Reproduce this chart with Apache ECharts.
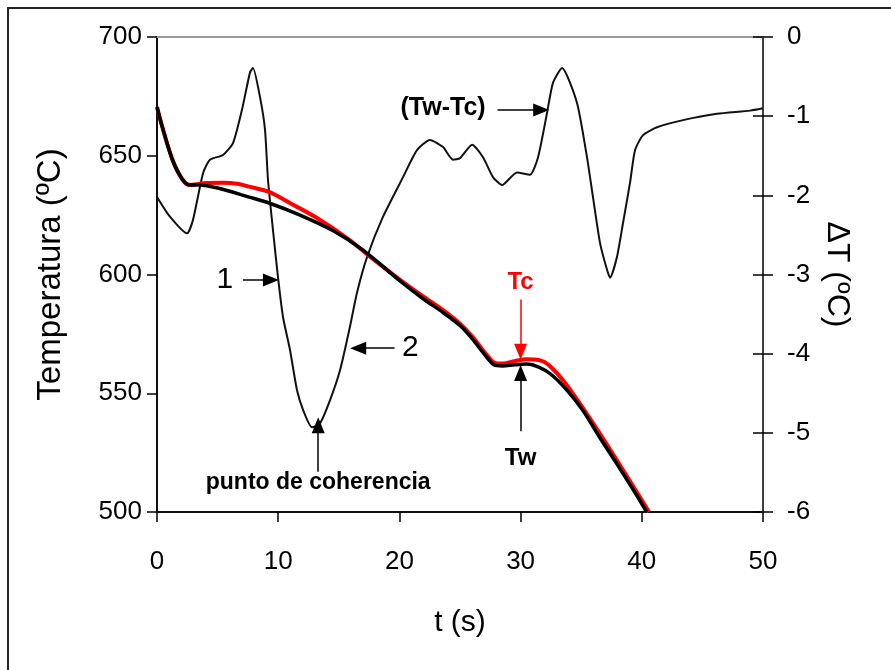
<!DOCTYPE html>
<html>
<head>
<meta charset="utf-8">
<title>Tw / Tc</title>
<script src="https://cdn.jsdelivr.net/npm/echarts@6/dist/echarts.min.js"></script>
<style>
  html, body { margin: 0; padding: 0; background: #fff; }
  #chart { width: 891px; height: 670px; }
</style>
</head>
<body>
<div id="chart"></div>
<script>
  // curva del agua (Tw), negra
  var twTime = [0, 0.5, 1.3, 2.1, 2.7, 3.5, 5, 7.6, 9.3, 11.8, 14.5, 17, 20, 21.9, 23.6, 25, 26, 27, 27.8, 28.5, 29.5, 30.5, 31.5, 32.5, 33.8, 35.1, 36.5, 37.9, 39.3, 40.4];
  var twTemp = [670.5, 661, 648, 640, 637.7, 637.7, 636.4, 632.6, 630, 625, 618.5, 610.3, 597.5, 590, 584, 578.5, 573, 566.5, 562, 561.5, 562, 562.3, 561, 558, 551.4, 543, 531.6, 520.6, 509.3, 500];

  // curva Tc, roja
  var tcTime = [0, 0.5, 1.3, 2.1, 2.7, 3.8, 5.5, 6.6, 7.6, 9.3, 11, 13.2, 15.9, 17.6, 20, 21.9, 23.6, 25, 26, 27, 27.8, 28.5, 29.5, 30.5, 31.5, 32.3, 33.8, 36.5, 40.6];
  var tcTemp = [670.5, 661, 648, 640, 637.7, 638.4, 638.6, 638.2, 637, 634.7, 630, 623.8, 614.5, 607.4, 598, 591, 585, 579.3, 574, 567.5, 563, 562.5, 563.5, 564.3, 564, 562, 553.5, 533.3, 500];

  // diferencia (Tw-Tc), eje derecho
  var dTime = [0, 1.07, 2.48, 2.97, 3.8, 4.37, 5.45, 6.27, 7.01, 7.67, 7.92, 8.5, 8.91, 9.16, 9.57, 9.98, 10.4, 10.97, 11.55, 12.05, 12.79, 13.45, 14.27, 15.1, 15.92, 16.5, 17.33, 18.65, 20.3, 21.45, 22.52, 23.6, 24.42, 25, 26, 26.9, 27.72, 28.47, 29.7, 30.78, 31.44, 32.18, 32.67, 33.42, 34.65, 35.48, 35.97, 36.55, 37.13, 37.38, 37.95, 38.45, 39.03, 39.44, 40.1, 41.25, 43.4, 46.2, 48.93, 50];
  var dValue = [-2.02, -2.27, -2.48, -2.31, -1.72, -1.55, -1.49, -1.34, -0.92, -0.45, -0.39, -0.76, -1.17, -1.81, -2.44, -3.03, -3.54, -3.95, -4.46, -4.71, -4.93, -4.88, -4.59, -4.21, -3.66, -3.23, -2.78, -2.27, -1.77, -1.43, -1.30, -1.39, -1.55, -1.53, -1.36, -1.52, -1.77, -1.87, -1.71, -1.74, -1.52, -0.96, -0.58, -0.39, -0.83, -1.52, -2.02, -2.60, -2.94, -3.04, -2.78, -2.35, -1.84, -1.43, -1.24, -1.14, -1.05, -0.97, -0.93, -0.90];

  var xTicks = [0, 50, 10];
  var leftTicks = [500, 700, 50];
  var rightTicks = [-6, 0, 1];

  // anotaciones (coordenadas t, T del eje izquierdo)
  var arrowFrom = [[7.1, 597.7], [19.6, 569], [28.1, 669.3], [13.3, 517], [30, 589.5], [30, 534]];
  var arrowTo = [[9.4, 597.7], [16.6, 569], [31.7, 669.3], [13.3, 536.5], [30, 567.5], [30, 558.5]];
  var arrowColor = ['#000', '#000', '#000', '#000', '#ff0000', '#000'];
  var noteText = ['1', '2', '(Tw-Tc)', 'punto de coherencia', 'Tc', 'Tw'];
  var notePos = [[5.6, 597.7], [20.9, 569], [23.6, 670.1], [13.3, 512.3], [30, 596.8], [30, 522.7]];
  var noteSize = [30, 30, 25, 23, 24, 24];
  var noteColor = ['#000', '#000', '#000', '#000', '#ff0000', '#000'];

  var FONT = "'Liberation Sans', Arial, sans-serif";

  function pairs(a, b) {
    var out = [];
    for (var i = 0; i < a.length; i++) out.push([a[i], b[i]]);
    return out;
  }

  var arrows = arrowFrom.map(function (f, i) {
    return [
      { coord: f, lineStyle: { color: arrowColor[i], width: 1.5, type: 'solid' }, itemStyle: { color: arrowColor[i] } },
      { coord: arrowTo[i], itemStyle: { color: arrowColor[i] } }
    ];
  });

  var notes = noteText.map(function (txt, i) {
    return {
      name: txt,
      coord: notePos[i],
      label: {
        show: true, position: 'inside', formatter: '{b}',
        fontFamily: FONT, fontSize: noteSize[i], color: noteColor[i],
        fontWeight: i < 2 ? 'normal' : 'bold'
      }
    };
  });

  var myChart = echarts.init(document.getElementById('chart'), null, { renderer: 'canvas' });

  var axisFont = { fontFamily: FONT, fontSize: 26, color: '#000' };

  var option = {
    backgroundColor: '#fff',
    animation: false,
    graphic: [{
      type: 'rect',
      shape: { x: 8, y: 8, width: 1000, height: 1000 },
      style: { fill: 'none', stroke: '#222', lineWidth: 2 },
      silent: true
    }],
    grid: {
      left: 157, right: 128, top: 37, bottom: 158,
      show: true, borderColor: '#000', borderWidth: 1.5, backgroundColor: 'transparent'
    },
    xAxis: [{
      type: 'value',
      min: xTicks[0], max: xTicks[1], interval: xTicks[2],
      name: 't (s)', nameLocation: 'middle', nameGap: 96,
      nameTextStyle: { fontFamily: FONT, fontSize: 30, color: '#000' },
      axisLine: { onZero: false, lineStyle: { color: '#000', width: 1.5 } },
      axisTick: { length: 10, lineStyle: { color: '#000', width: 1.5 } },
      axisLabel: Object.assign({ margin: 37 }, axisFont),
      splitLine: { show: false }
    }, {
      // borde superior gris
      type: 'value',
      position: 'top',
      min: xTicks[0], max: xTicks[1],
      axisLine: { show: true, onZero: false, lineStyle: { color: '#9a9a9a', width: 2 } },
      axisTick: { show: false },
      axisLabel: { show: false },
      splitLine: { show: false }
    }],
    yAxis: [{
      type: 'value',
      position: 'left',
      min: leftTicks[0], max: leftTicks[1], interval: leftTicks[2],
      name: 'Temperatura (ºC)', nameLocation: 'middle', nameGap: 90, nameRotate: 90,
      nameTextStyle: { fontFamily: FONT, fontSize: 33, color: '#000' },
      axisLine: { show: true, onZero: false, lineStyle: { color: '#000', width: 1.5 } },
      axisTick: { show: true, length: 10, lineStyle: { color: '#000', width: 1.5 } },
      axisLabel: Object.assign({ margin: 15 }, axisFont),
      splitLine: { show: false }
    }, {
      // marcas que cruzan el eje derecho (la linea la pone el borde del grid)
      type: 'value',
      position: 'right',
      offset: -10,
      min: rightTicks[0], max: rightTicks[1], interval: rightTicks[2],
      name: 'ΔT (ºC)', nameLocation: 'middle', nameGap: 66, nameRotate: -90,
      nameTextStyle: { fontFamily: FONT, fontSize: 32, color: '#000' },
      axisLine: { show: false, onZero: false },
      axisTick: { show: true, length: 20, lineStyle: { color: '#000', width: 1.5 } },
      axisLabel: Object.assign({ margin: 34 }, axisFont),
      splitLine: { show: false }
    }],
    series: [{
      name: 'Tw-Tc',
      type: 'line',
      yAxisIndex: 1,
      data: pairs(dTime, dValue),
      showSymbol: false,
      smooth: 0.2,
      lineStyle: { color: '#111', width: 2 },
      silent: true,
      z: 2
    }, {
      name: 'Tc',
      type: 'line',
      yAxisIndex: 0,
      data: pairs(tcTime, tcTemp),
      showSymbol: false,
      smooth: 0.3,
      lineStyle: { color: '#ff0000', width: 4 },
      silent: true,
      z: 3
    }, {
      name: 'Tw',
      type: 'line',
      yAxisIndex: 0,
      data: pairs(twTime, twTemp),
      showSymbol: false,
      smooth: 0.3,
      lineStyle: { color: '#000', width: 3.5 },
      silent: true,
      z: 4,
      markLine: {
        silent: true,
        symbol: ['none', 'triangle'],
        symbolSize: [13, 16],
        label: { show: false },
        emphasis: { disabled: true },
        data: arrows
      },
      markPoint: {
        silent: true,
        symbol: 'rect',
        symbolSize: 1,
        itemStyle: { color: 'rgba(0,0,0,0)' },
        data: notes
      }
    }]
  };

  myChart.setOption(option);
</script>
</body>
</html>
